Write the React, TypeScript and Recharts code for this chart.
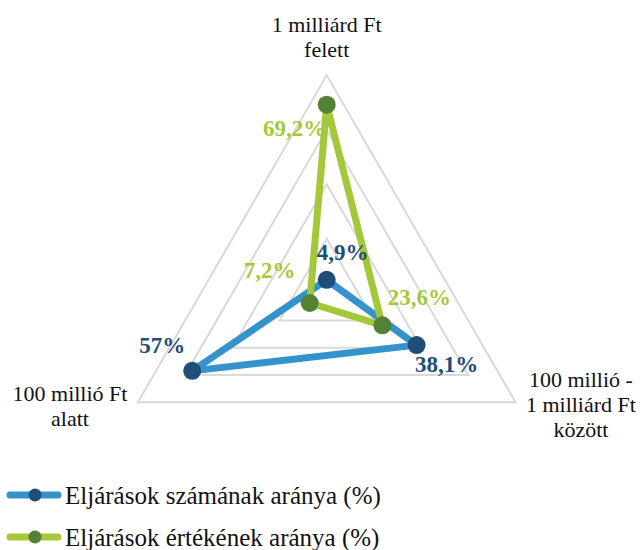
import { Legend, PolarAngleAxis, PolarGrid, PolarRadiusAxis, Radar, RadarChart } from "recharts"

// categories, clockwise from the top
const categories = [
    "1 milliárd Ft felett",
    "100 millió - 1 milliárd Ft között",
    "100 millió Ft alatt",
]
const categoryLines = [
    ["1 milliárd Ft", "felett"],
    ["100 millió -", "1 milliárd Ft", "között"],
    ["100 millió Ft", "alatt"],
]
const szamValues = [4.9, 38.1, 57]
const ertekValues = [69.2, 23.6, 7.2]
const seriesNames = ["Eljárások számának aránya (%)", "Eljárások értékének aránya (%)"]
const radiusDomain = [0, 80]

const data = categories.map((c, i) => ({
    category: c,
    szam: szamValues[i],
    ertek: ertekValues[i],
}))

const BLUE_LINE = "#3593cb"
const BLUE_DOT = "#1f4e79"
const GREEN_LINE = "#a5c83a"
const GREEN_DOT = "#538135"
const FONT = "Liberation Serif"

// label offsets from each point: [dx, dy of baseline]
const szamLabelOffsets = [[16, -20], [30, 27], [-30, -18]]
const ertekLabelOffsets = [[-32, 31], [37, -20], [-40, -25]]
const tickOffsets = [[0, -35], [58.5, -19], [-61, -5.5]]

const fmt = (v: number) => String(v).replace(".", ",") + "%"

const makeDot = (dotColor: string, labelColor: string, offsets: number[][]) => (props: any) => {
    const { cx, cy, index } = props
    const v = props.payload?.value ?? props.value
    const [dx, dy] = offsets[index]
    return (
        <g key={"dot-" + index}>
            <circle cx={cx} cy={cy} r={9} fill={dotColor} />
            <text
                x={cx + dx}
                y={cy + dy}
                textAnchor="middle"
                style={{ fontFamily: FONT, fontWeight: "bold", fontSize: 23 }}
                fill={labelColor}
            >
                {fmt(v)}
            </text>
        </g>
    )
}

const renderTick = (props: any) => {
    const { x, y, payload } = props
    const idx = categories.indexOf(payload.value)
    const lines = categoryLines[idx]
    const [dx, dy] = tickOffsets[idx]
    return (
        <text
            x={x + dx}
            y={y + dy}
            textAnchor="middle"
            style={{ fontFamily: FONT, fontSize: 22 }}
            fill="#111"
        >
            {lines.map((l, i) => (
                <tspan key={i} x={x + dx} dy={i === 0 ? 0 : 25}>
                    {l}
                </tspan>
            ))}
        </text>
    )
}

const legendColors = [
    [BLUE_LINE, BLUE_DOT],
    [GREEN_LINE, GREEN_DOT],
]

const renderLegend = (props: any) => {
    const payload = props.payload || []
    return (
        <div>
            {payload.map((entry: any, i: number) => (
                <div key={i} style={{ display: "flex", alignItems: "center", height: 42 }}>
                    <svg width={62} height={20}>
                        <line
                            x1={10}
                            y1={10}
                            x2={58}
                            y2={10}
                            stroke={legendColors[i][0]}
                            strokeWidth={7}
                            strokeLinecap="round"
                        />
                        <circle cx={35} cy={10} r={6.5} fill={legendColors[i][1]} />
                    </svg>
                    <span
                        style={{
                            fontFamily: FONT,
                            fontSize: 25,
                            lineHeight: "25px",
                            color: "#111",
                            marginLeft: 3,
                            whiteSpace: "nowrap",
                        }}
                    >
                        {entry.value}
                    </span>
                </div>
            ))}
        </div>
    )
}

export default function App() {
    return (
        <div style={{ position: "absolute", left: 0, top: 0, width: 644, height: 550, background: "#fff" }}>
            <RadarChart
                width={644}
                height={550}
                data={data}
                cx={326.7}
                cy={293.2}
                outerRadius={218}
                margin={{ top: 0, right: 0, bottom: 0, left: 0 }}
                style={{ fontFamily: FONT }}
            >
                <PolarGrid gridType="polygon" radialLines={false} stroke="#d9d9d9" strokeWidth={2} />
                <PolarAngleAxis dataKey="category" tick={renderTick} tickLine={false} axisLine={false} />
                <PolarRadiusAxis domain={radiusDomain} tickCount={5} tick={false} axisLine={false} />
                <Radar
                    name={seriesNames[0]}
                    dataKey="szam"
                    stroke={BLUE_LINE}
                    strokeWidth={7}
                    strokeLinejoin="round"
                    fill="none"
                    fillOpacity={0}
                    dot={makeDot(BLUE_DOT, BLUE_DOT, szamLabelOffsets)}
                    activeDot={false}
                    isAnimationActive={false}
                />
                <Radar
                    name={seriesNames[1]}
                    dataKey="ertek"
                    stroke={GREEN_LINE}
                    strokeWidth={7}
                    strokeLinejoin="round"
                    fill="none"
                    fillOpacity={0}
                    dot={makeDot(GREEN_DOT, GREEN_LINE, ertekLabelOffsets)}
                    activeDot={false}
                    isAnimationActive={false}
                />
                <Legend
                    content={renderLegend}
                    wrapperStyle={{ position: "absolute", left: 0, top: 474, width: 440, height: 84 }}
                />
            </RadarChart>
        </div>
    )
}
